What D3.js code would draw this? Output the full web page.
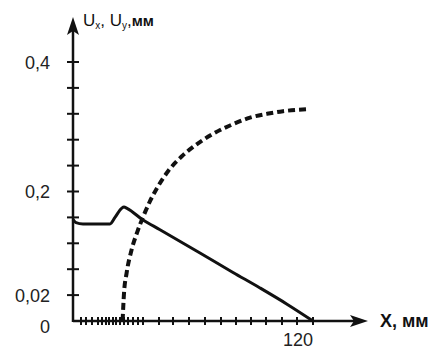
<!DOCTYPE html>
<html>
<head>
<meta charset="utf-8">
<script src="https://cdn.jsdelivr.net/npm/d3@7"></script>
<style>
  html, body { margin: 0; padding: 0; background: #fff; }
  svg { display: block; font-family: "Liberation Sans", Arial, sans-serif; }
</style>
</head>
<body>
<div id="chart"></div>
<script>
// data (X in mm, U in mm)
const solidX = [0, 1.5, 5, 12, 18.5, 21, 24.3, 25.5, 27, 35, 43.5, 63.5, 80, 93.5, 107, 120];
const solidU = [0.157, 0.152, 0.150, 0.150, 0.150, 0.160, 0.174, 0.176, 0.174, 0.156, 0.141, 0.105, 0.075, 0.051, 0.026, 0];

const dashX = [24.8, 25.5, 26.8, 29.3, 32.2, 35.2, 38.5, 42.7, 47.7, 54.3, 61, 70, 80, 88.5, 97, 105, 117];
const dashU = [0, 0.043, 0.074, 0.110, 0.138, 0.162, 0.185, 0.209, 0.232, 0.254, 0.271, 0.289, 0.304, 0.314, 0.320, 0.324, 0.327];

const xTicks = [4, 6.5, 9.5, 12.5, 14.5, 16.5, 18, 20, 21.5, 23.5, 25.5, 27.5, 30, 32.5, 35, 43, 50, 58, 66, 74, 81.5, 89, 96.5, 104.5, 112, 120];
const yTicks = [0.04, 0.08, 0.12, 0.16, 0.2, 0.24, 0.28, 0.32, 0.36, 0.4];
const yLabelValues = [0, 0.04, 0.2, 0.4];
const yLabelTexts = ['0', '0,02', '0,2', '0,4'];
const xLabelValues = [120];
const xLabelTexts = ['120'];

const width = 437, height = 351;
const svg = d3.select('#chart').append('svg')
    .attr('width', width)
    .attr('height', height);

const x = d3.scaleLinear().domain([0, 120]).range([73, 313]);
const y = d3.scaleLinear().domain([0, 0.4]).range([321, 62]);

// axes
svg.append('line')
    .attr('x1', x(0)).attr('x2', 356)
    .attr('y1', y(0)).attr('y2', y(0))
    .attr('stroke', '#111').attr('stroke-width', 2.5);
svg.append('path')
    .attr('d', `M368,${y(0)} L350,${y(0) - 6} L354,${y(0)} L350,${y(0) + 6} Z`)
    .attr('fill', '#111');

svg.append('line')
    .attr('x1', x(0)).attr('x2', x(0))
    .attr('y1', y(0) + 1).attr('y2', 30)
    .attr('stroke', '#111').attr('stroke-width', 2.5);
svg.append('path')
    .attr('d', `M${x(0)},17 L${x(0) - 6},35 L${x(0)},31 L${x(0) + 6},35 Z`)
    .attr('fill', '#111');

// ticks
svg.append('g').selectAll('line')
    .data(xTicks)
    .enter()
    .append('line')
    .attr('x1', d => x(d)).attr('x2', d => x(d))
    .attr('y1', y(0) - 4).attr('y2', y(0) + 4)
    .attr('stroke', '#111').attr('stroke-width', 2);

svg.append('g').selectAll('line')
    .data(yTicks)
    .enter()
    .append('line')
    .attr('x1', x(0) - 6).attr('x2', x(0) + 6)
    .attr('y1', d => y(d)).attr('y2', d => y(d))
    .attr('stroke', '#111').attr('stroke-width', 2);

// tick labels
svg.append('g').selectAll('text')
    .data(yLabelValues)
    .enter()
    .append('text')
    .attr('x', 50)
    .attr('y', (d, i) => i === 0 ? y(d) + 7 : y(d) + 2)
    .attr('text-anchor', 'end')
    .attr('dominant-baseline', 'middle')
    .style('font-size', '18px')
    .style('fill', '#222')
    .text((d, i) => yLabelTexts[i]);

svg.append('g').selectAll('text')
    .data(xLabelValues)
    .enter()
    .append('text')
    .attr('x', d => x(d) - 15)
    .attr('y', y(0) + 20)
    .attr('text-anchor', 'middle')
    .attr('dominant-baseline', 'middle')
    .style('font-size', '18px')
    .style('fill', '#222')
    .text((d, i) => xLabelTexts[i]);

// axis titles
svg.append('text')
    .attr('x', 380)
    .attr('y', y(0) + 1)
    .attr('dominant-baseline', 'middle')
    .style('font-size', '18px')
    .style('font-weight', 'bold')
    .style('fill', '#111')
    .text('X, мм');

const yTitle = svg.append('text')
    .attr('x', 83)
    .attr('y', 26)
    .style('font-size', '17px')
    .style('fill', '#111');
yTitle.append('tspan').text('U');
yTitle.append('tspan').attr('dy', 3).style('font-size', '10px').text('x');
yTitle.append('tspan').attr('dy', -3).text(', U');
yTitle.append('tspan').attr('dy', 3).style('font-size', '10px').text('y');
yTitle.append('tspan').attr('dy', -3).text(',');
yTitle.append('tspan').style('font-weight', 'bold').style('font-size', '15px').text('мм');

// curves
const line = d3.line()
    .x(d => x(d[0]))
    .y(d => y(d[1]))
    .curve(d3.curveMonotoneX);

svg.append('path')
    .datum(solidX.map((v, i) => [v, solidU[i]]))
    .attr('d', line)
    .attr('fill', 'none')
    .attr('stroke', '#111')
    .attr('stroke-width', 3)
    .attr('stroke-linejoin', 'round');

svg.append('path')
    .datum(dashX.map((v, i) => [v, dashU[i]]))
    .attr('d', line)
    .attr('fill', 'none')
    .attr('stroke', '#111')
    .attr('stroke-width', 4)
    .attr('stroke-dasharray', '7,4');
</script>
</body>
</html>
